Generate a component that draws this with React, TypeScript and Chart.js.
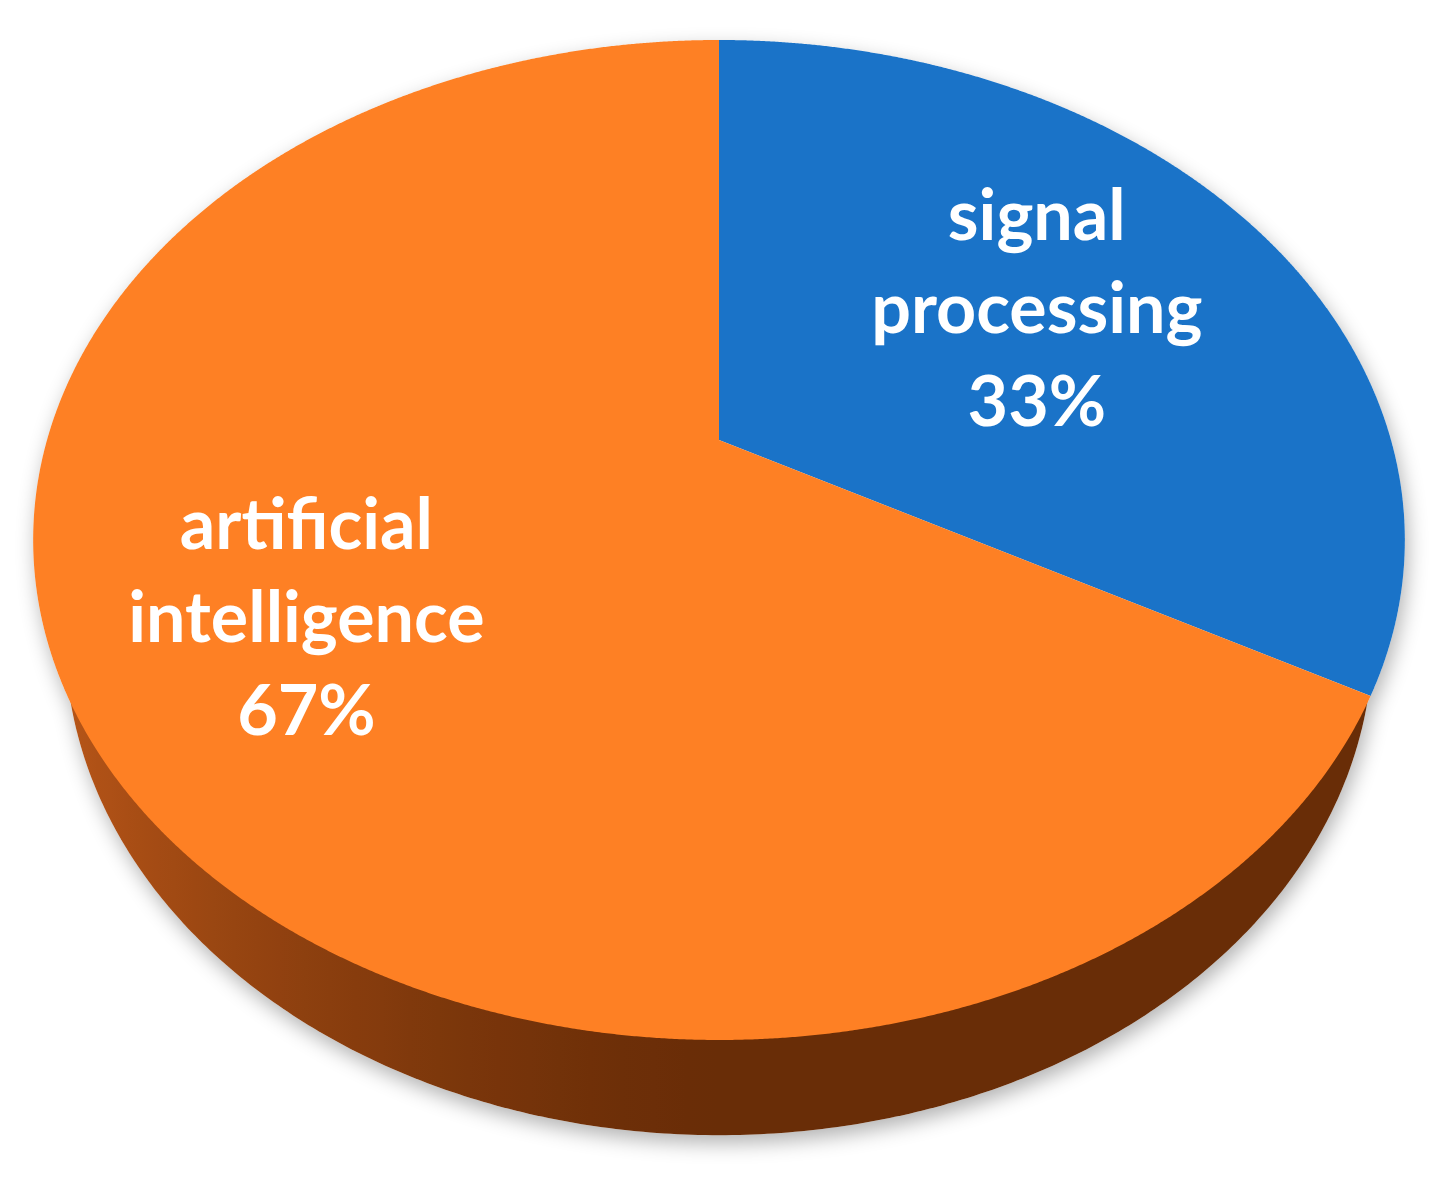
import { useEffect, useRef } from "react";
import { Chart, registerables } from "chart.js";

Chart.register(...registerables);

// ---- data ----
const categories = ["signal processing", "artificial intelligence"];
const shares = [33, 67];
const topColors = ["#1A73C8", "#FE8024"];
const sideDarkColors = ["#0E3A6C", "#692D07"];
const sideLightColors = ["#2A66A8", "#C65D1B"];
const labelRadius = [0.582, 0.665];

// ---- 3D perspective settings ----
const TILT = Math.asin(480 / 672);
const CAM_DIST = 3.5;
const THICKNESS = 0.232;
const SCALE_PER_R = 672 / 440;
const LINE_HEIGHT = 93;
const LABEL_DY = 5;

function hexToRgb(h: string) {
  const n = parseInt(h.slice(1), 16);
  return [(n >> 16) & 255, (n >> 8) & 255, n & 255];
}
function mix(a: string, b: string, t: number) {
  const A = hexToRgb(a), B = hexToRgb(b);
  const c = A.map((v, i) => Math.round(v + (B[i] - v) * t));
  return `rgb(${c[0]},${c[1]},${c[2]})`;
}

const pie3d = {
  id: "pie3d",
  beforeDatasetsDraw(chart: any) {
    const ctx: CanvasRenderingContext2D = chart.ctx;
    const meta = chart.getDatasetMeta(0);
    const arcs = meta.data as any[];
    if (!arcs.length) return false;
    const cx = arcs[0].x, cy = arcs[0].y, R = arcs[0].outerRadius;
    const A = R * SCALE_PER_R;
    const sF = Math.sin(TILT), cF = Math.cos(TILT);
    const P = (x: number, y: number, z: number) => {
      const den = 1 - (y * cF + z * sF) / CAM_DIST;
      return [cx + (A * x) / den, cy + (A * (y * sF - z * cF)) / den];
    };
    const zb = -THICKNESS;
    const N = 720;
    const ta = Math.asin(1 / (CAM_DIST * cF));
    const tb = Math.PI - ta;
    const drop = A * THICKNESS * 2;

    const ellipsePath = (z: number) => {
      for (let i = 0; i <= N; i++) {
        const t = (i / N) * Math.PI * 2;
        const [X, Y] = P(Math.cos(t), Math.sin(t), z);
        if (i) ctx.lineTo(X, Y);
        else ctx.moveTo(X, Y);
      }
      ctx.closePath();
    };

    // shadow of the whole solid
    ctx.save();
    ctx.shadowColor = "rgba(0,0,0,0.30)";
    ctx.shadowBlur = 20;
    ctx.shadowOffsetX = 3;
    ctx.shadowOffsetY = 8;
    ctx.fillStyle = "#ffffff";
    ctx.beginPath();
    ellipsePath(0);
    ellipsePath(zb);
    ctx.fill();
    ctx.restore();

    // side walls: region hanging below the rim, clipped to the base outline,
    // shaded with a horizontal gradient following the wall's orientation
    const xL = P(Math.cos(tb), Math.sin(tb), 0)[0];
    const xR = P(Math.cos(ta), Math.sin(ta), 0)[0];
    ctx.save();
    ctx.beginPath();
    ellipsePath(zb);
    ctx.clip();
    arcs.forEach((arc, i) => {
      const grad = ctx.createLinearGradient(xL, 0, xR, 0);
      const G = 60;
      for (let g = 0; g <= G; g++) {
        const t = tb - ((tb - ta) * g) / G;
        const x = P(Math.cos(t), Math.sin(t), 0)[0];
        const pos = Math.min(1, Math.max(0, (x - xL) / (xR - xL)));
        const lt = Math.pow(Math.max(0, -Math.cos(t)), 1.4);
        grad.addColorStop(pos, mix(sideDarkColors[i], sideLightColors[i], lt));
      }
      const s = arc.startAngle, e = arc.endAngle;
      for (const k of [-1, 0, 1]) {
        const s2 = Math.max(s + k * 2 * Math.PI, ta);
        const e2 = Math.min(e + k * 2 * Math.PI, tb);
        if (e2 <= s2) continue;
        const steps = Math.max(2, Math.ceil((e2 - s2) / 0.004));
        ctx.beginPath();
        for (let j = 0; j <= steps; j++) {
          const t = s2 + ((e2 - s2) * j) / steps;
          const [X, Y] = P(Math.cos(t), Math.sin(t), 0);
          if (j) ctx.lineTo(X, Y - 2);
          else ctx.moveTo(X, Y - 2);
        }
        for (let j = steps; j >= 0; j--) {
          const t = s2 + ((e2 - s2) * j) / steps;
          const [X, Y] = P(Math.cos(t), Math.sin(t), 0);
          ctx.lineTo(X, Y + drop);
        }
        ctx.closePath();
        ctx.fillStyle = grad;
        ctx.fill();
      }
    });
    ctx.restore();

    // top faces
    arcs.forEach((arc, i) => {
      const s = arc.startAngle, e = arc.endAngle;
      const steps = Math.max(8, Math.ceil((e - s) / 0.003));
      ctx.beginPath();
      const c0 = P(0, 0, 0);
      ctx.moveTo(c0[0], c0[1]);
      for (let j = 0; j <= steps; j++) {
        const t = s + ((e - s) * j) / steps;
        const [X, Y] = P(Math.cos(t), Math.sin(t), 0);
        ctx.lineTo(X, Y);
      }
      ctx.closePath();
      ctx.fillStyle = arc.options.backgroundColor || topColors[i];
      ctx.fill();
    });

    // labels
    const total = shares.reduce((a, b) => a + b, 0);
    ctx.save();
    ctx.fillStyle = "#ffffff";
    ctx.font = "bold 70px Lato, 'Open Sans', sans-serif";
    ctx.textAlign = "center";
    ctx.textBaseline = "middle";
    arcs.forEach((arc, i) => {
      const mid = (arc.startAngle + arc.endAngle) / 2;
      const f = labelRadius[i];
      const [X, Y] = P(f * Math.cos(mid), f * Math.sin(mid), 0);
      const lines = [...categories[i].split(" "), Math.round((shares[i] / total) * 100) + "%"];
      const y0 = Y + LABEL_DY - ((lines.length - 1) / 2) * LINE_HEIGHT;
      lines.forEach((ln, k) => ctx.fillText(ln, X, y0 + k * LINE_HEIGHT));
    });
    ctx.restore();
    return false;
  },
};

export default function App() {
  const ref = useRef<HTMLCanvasElement>(null);
  useEffect(() => {
    document.body.style.margin = "0";
    const chart = new Chart(ref.current!, {
      type: "pie",
      data: {
        labels: categories,
        datasets: [{ data: shares, backgroundColor: topColors, borderWidth: 0 }],
      },
      options: {
        animation: false,
        responsive: false,
        layout: { padding: { left: 8, right: 0, top: 0, bottom: 307 } },
        plugins: { legend: { display: false }, tooltip: { enabled: false } },
      },
      plugins: [pie3d as any],
    });
    return () => chart.destroy();
  }, []);
  return (
    <div style={{ width: 1430, height: 1187, background: "#ffffff" }}>
      <canvas ref={ref} width={1430} height={1187} style={{ display: "block" }} />
    </div>
  );
}
